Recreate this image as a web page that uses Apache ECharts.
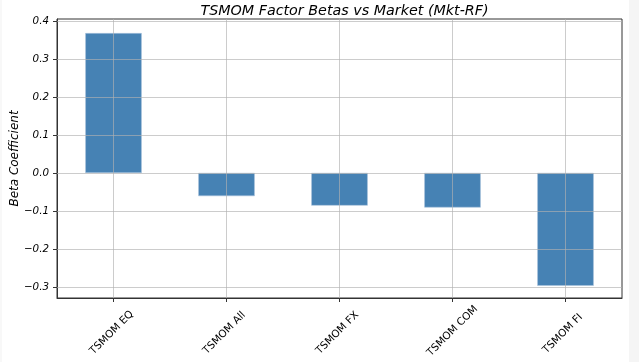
<!DOCTYPE html>
<html><head><meta charset="utf-8">
<script src="https://cdn.jsdelivr.net/npm/echarts@6/dist/echarts.min.js"></script>
<style>html,body{margin:0;padding:0;background:#fff}#c{width:639px;height:362px}</style>
</head><body><div id="c"></div>
<script>
var categories = ["TSMOM EQ", "TSMOM All", "TSMOM FX", "TSMOM COM", "TSMOM FI"];
var betas = [0.368, -0.061, -0.086, -0.091, -0.297];
var yTicks = [-0.3, -0.2, -0.1, 0.0, 0.1, 0.2, 0.3, 0.4];
var titleText = "TSMOM Factor Betas vs Market (Mkt-RF)";
var yName = "Beta Coefficient";

var font = 'DejaVu Sans';
var xFontSize = 10.4;
var gridColor = 'rgba(176,176,176,0.65)';

// measure label widths so rotated labels can be top-aligned (matplotlib style)
var cv = document.createElement('canvas').getContext('2d');
cv.font = xFontSize + 'px "' + font + '"';
var widths = categories.map(function (c) { return cv.measureText(c).width; });
var wMax = Math.max.apply(null, widths);
var hMax = (wMax + xFontSize * 1.2) * Math.SQRT1_2;
var xData = categories.map(function (c, i) {
  var p = (wMax - widths[i]) / 2;
  return {value: c, textStyle: {align: 'center', verticalAlign: 'middle', padding: [p, p, 0, 0]}};
});

var gridLines = categories.map(function (c) { return {xAxis: c}; })
  .concat(yTicks.map(function (v) { return {yAxis: v}; }));

var chart = echarts.init(document.getElementById('c'), null, {renderer: 'canvas'});
chart.setOption({
  animation: false,
  backgroundColor: '#fff',
  graphic: [
    {type: 'rect', right: 0, top: 0, z: -10, silent: true, shape: {width: 10, height: 362}, style: {fill: '#f5f5f5'}},
    {type: 'rect', left: 0, top: 0, z: -10, silent: true, shape: {width: 2, height: 362}, style: {fill: '#f8f8f8'}}
  ],
  title: {
    text: titleText, left: 339.5, top: -1, textAlign: 'center',
    textStyle: {fontFamily: font, fontSize: 14.3, fontStyle: 'italic', fontWeight: 'normal', color: '#000'}
  },
  grid: {left: 57, right: 17, top: 19, bottom: 64, outerBoundsMode: 'none', containLabel: false,
         show: true, borderColor: '#333', borderWidth: 1, backgroundColor: 'transparent'},
  xAxis: {
    type: 'category', data: xData,
    axisLine: {show: true, onZero: false, lineStyle: {color: '#333', width: 1}},
    axisTick: {show: true, alignWithLabel: true, length: 4, lineStyle: {color: '#333'}},
    axisLabel: {rotate: 45, align: 'center', verticalAlign: 'middle', fontFamily: font, fontSize: xFontSize,
                color: '#000', margin: 5 + hMax / 2, interval: 0},
    splitLine: {show: false}
  },
  yAxis: {
    type: 'value', min: -0.329, max: 0.405,
    name: yName, nameLocation: 'middle', nameGap: 36, nameMoveOverlap: false,
    nameTextStyle: {fontFamily: font, fontSize: 12, fontStyle: 'italic', color: '#000'},
    axisLine: {show: true, lineStyle: {color: '#333', width: 1}},
    axisTick: {show: true, length: 4, lineStyle: {color: '#333'}, customValues: yTicks},
    axisLabel: {
      fontFamily: font, fontSize: 10.3, fontStyle: 'italic', color: '#000', margin: 8,
      customValues: yTicks,
      formatter: function (v) { var s = Math.abs(v).toFixed(1); return (v < -1e-9 ? '\u2212' : '') + s; }
    },
    splitLine: {show: false}
  },
  series: [{
    type: 'bar', data: betas, barWidth: '50%', z: 2,
    itemStyle: {color: '#4682b4', borderColor: '#a9c3db', borderWidth: 0.6},
    markLine: {
      silent: true, symbol: 'none', animation: false, z: 5,
      label: {show: false},
      emphasis: {disabled: true},
      lineStyle: {color: gridColor, width: 1, type: 'solid'},
      data: gridLines
    }
  }]
});
</script></body></html>
